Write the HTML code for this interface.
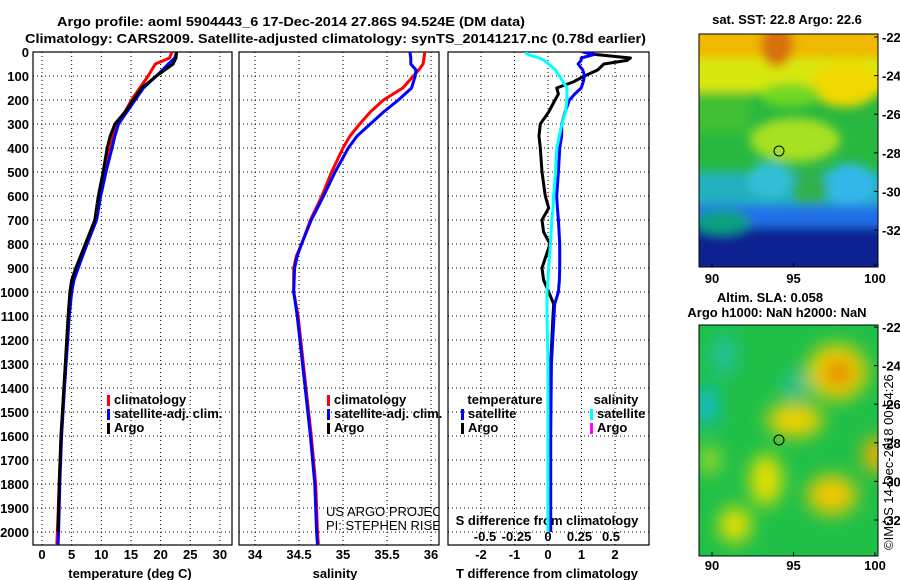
<!DOCTYPE html>
<html><head><meta charset="utf-8"><style>
body{margin:0;background:#fff;width:900px;height:580px;overflow:hidden}
svg{display:block;font-family:"Liberation Sans",sans-serif}
text{font-weight:bold;font-size:13px;fill:#000}
</style></head><body>
<svg id="s" width="900" height="580" viewBox="0 0 900 580">
<defs>
<clipPath id="c1"><rect x="33" y="52" width="199" height="493"/></clipPath>
<clipPath id="c2"><rect x="239" y="52" width="200" height="493"/></clipPath>
<clipPath id="c3"><rect x="448" y="52" width="201" height="493"/></clipPath>
<clipPath id="m1"><rect x="699" y="34" width="179" height="233"/></clipPath>
<clipPath id="m2"><rect x="699" y="325" width="179" height="231"/></clipPath>
<filter id="bl"><feGaussianBlur stdDeviation="9"/></filter>
<filter id="bl2"><feGaussianBlur stdDeviation="5"/></filter>
</defs>
<text x="57" y="26" textLength="468" lengthAdjust="spacingAndGlyphs" font-size="14">Argo profile: aoml 5904443_6 17-Dec-2014 27.86S 94.524E (DM data)</text>
<text x="25" y="43" textLength="621" lengthAdjust="spacingAndGlyphs" font-size="14">Climatology: CARS2009. Satellite-adjusted climatology: synTS_20141217.nc (0.78d earlier)</text>
<g id="maps">
<g clip-path="url(#m1)">
<rect x="699" y="34" width="179" height="233" fill="#28b840"/>
<g filter="url(#bl2)">
<rect x="690" y="20" width="200" height="45" fill="#f0b800"/>
<rect x="690" y="58" width="200" height="35" fill="#d8e810"/>
<ellipse cx="777" cy="45" rx="16" ry="22" fill="#d87010"/>
<ellipse cx="845" cy="85" rx="35" ry="22" fill="#f0d800"/>
<rect x="690" y="92" width="60" height="40" fill="#40c030"/>
<ellipse cx="790" cy="95" rx="30" ry="12" fill="#70d820"/>
<ellipse cx="795" cy="140" rx="45" ry="22" fill="#a8e020"/>
<rect x="690" y="172" width="200" height="45" fill="#20b0c0"/>
<ellipse cx="770" cy="180" rx="22" ry="18" fill="#30c0d8"/>
<ellipse cx="850" cy="185" rx="25" ry="22" fill="#30b8e8"/>
<ellipse cx="810" cy="190" rx="18" ry="20" fill="#30b050"/>
<rect x="690" y="205" width="200" height="22" fill="#2070e8"/>
<rect x="690" y="227" width="200" height="50" fill="#102090"/>
<ellipse cx="722" cy="222" rx="28" ry="12" fill="#10a080"/>
</g>
</g>
<rect x="699" y="34" width="179" height="233" fill="none" stroke="#000"/>
<circle cx="779" cy="151" r="5" fill="none" stroke="#000"/>
<g clip-path="url(#m2)">
<rect x="699" y="325" width="179" height="231" fill="#20c048"/>
<g filter="url(#bl)">
<ellipse cx="724" cy="355" rx="12" ry="22" fill="#20c0a0"/>
<ellipse cx="707" cy="406" rx="10" ry="20" fill="#10b8e0"/>
<ellipse cx="795" cy="385" rx="12" ry="12" fill="#20c0a0"/>
<ellipse cx="837" cy="372" rx="30" ry="28" fill="#f0d000"/>
<ellipse cx="839" cy="373" rx="14" ry="12" fill="#e07800"/>
<ellipse cx="795" cy="420" rx="28" ry="17" fill="#f0d000"/>
<ellipse cx="766" cy="480" rx="16" ry="26" fill="#e8e000"/>
<ellipse cx="832" cy="495" rx="25" ry="20" fill="#f0c800"/>
<ellipse cx="735" cy="525" rx="16" ry="18" fill="#e8e000"/>
<ellipse cx="877" cy="455" rx="14" ry="18" fill="#f0b000"/>
<ellipse cx="710" cy="460" rx="8" ry="15" fill="#c0e020"/>
</g>
</g>
<rect x="699" y="325" width="179" height="231" fill="none" stroke="#000"/>
<circle cx="779" cy="440" r="5" fill="none" stroke="#000"/>
<text x="787" y="24" text-anchor="middle" font-size="12">sat. SST: 22.8 Argo: 22.6</text>
<text x="770" y="302" text-anchor="middle" font-size="12">Altim. SLA: 0.058</text>
<text x="777" y="317" text-anchor="middle" font-size="12">Argo h1000: NaN h2000: NaN</text>
<text transform="translate(893,550) rotate(-90)" style="font-weight:normal" font-size="12">©IMOS 14-Dec-2018 00:54:26</text>
</g>
</svg>
<script>
// depth axis
const depthTicks=[0,100,200,300,400,500,600,700,800,900,1000,1100,1200,1300,1400,1500,1600,1700,1800,1900,2000];
// temperature profiles (depth, value)
const tDepth=[0,25,50,100,150,200,250,300,350,400,500,600,700,800,900,950,1000,1100,1400,1600,1800,2000,2055];
const tClim=[21.9,21.5,19.1,17.9,16.5,15.1,14.0,12.6,12.0,11.5,10.5,9.8,9.1,7.4,5.8,5.2,4.9,4.5,3.7,3.2,2.9,2.6,2.5];
const tSat=[22.7,22.4,21.3,19.3,17.1,15.7,14.3,12.9,12.3,11.8,10.8,9.9,9.2,7.6,6.1,5.4,5.0,4.6,3.8,3.3,3.0,2.8,2.7];
const tArgo=[22.7,22.6,22.1,19.3,16.8,15.4,14.0,12.3,11.5,11.0,10.3,9.5,8.9,7.3,5.7,5.0,4.7,4.4,3.7,3.2,2.9,2.7,null];
// salinity profiles
const sDepth=[0,25,50,75,100,150,200,250,300,350,400,500,600,700,800,850,900,1000,1100,1400,1600,1800,2000,2055];
const sClim=[35.93,35.92,35.91,35.86,35.80,35.68,35.46,35.31,35.19,35.08,35.00,34.87,34.76,34.63,34.53,34.47,34.44,34.44,34.49,34.58,34.64,34.69,34.71,34.72];
const sSat=[35.76,35.77,35.77,35.83,35.82,35.78,35.63,35.46,35.31,35.16,35.06,34.91,34.78,34.64,34.53,34.48,34.45,34.44,34.48,34.57,34.63,34.68,34.70,34.71];
// difference profiles
const dDepth=[0,10,25,35,50,75,100,125,150,175,200,250,300,350,400,500,600,650,700,750,800,900,950,1000,1050,1100,1300,1600,2000];
const dArgoT=[1.09,1.38,2.46,2.36,1.67,1.48,1.09,0.75,0.26,0.31,0.21,0.02,-0.23,-0.27,-0.23,-0.18,-0.08,0.02,-0.18,-0.13,0.06,-0.18,-0.13,0.02,0.17,0.15,0.08,0.05,null];
const dSatT=[1.04,1.38,0.99,0.99,0.9,1.04,1.09,1.05,0.99,0.8,0.64,0.51,0.41,0.41,0.35,0.31,0.26,0.28,0.31,0.33,0.35,0.35,0.34,0.31,0.2,0.18,0.1,0.08,0.08];
const dSatS=[-0.18,-0.16,-0.07,-0.03,0.005,0.06,0.09,0.12,0.15,0.15,0.15,0.14,0.11,0.09,0.07,0.06,0.045,0.04,0.03,0.025,0.02,0.005,0.0,-0.008,-0.008,-0.008,0.0,0.0,0.0];
const tTicks=[0,5,10,15,20,25,30];
const sTicks=[34,34.5,35,35.5,36];
const sTickLabels=["34","34.5","35","35.5","36"];
const dtTicks=[-2,-1,0,1,2];
const dsTicks=[-0.5,-0.25,0,0.25,0.5];
const dsTickLabels=["-0.5","-0.25","0","0.25","0.5"];
const latTicks=[-22,-24,-26,-28,-30,-32];
const lonTicks=[90,95,100];

const NS='http://www.w3.org/2000/svg';
const svg=document.getElementById('s');
function el(tag,attrs,parent){const e=document.createElementNS(NS,tag);for(const k in attrs)e.setAttribute(k,attrs[k]);(parent||svg).appendChild(e);return e;}
const yD=d=>52+d*0.24;
const xT=v=>42+v*5.93;
const xS=v=>255+(v-34)*88;
const xDT=v=>548+v*33.5;
const xDS=v=>548+v*126;
const yLat1=v=>37+(-22-v)*19.3;
const yLat2=v=>327+(-22-v)*19.3;
const xLon=v=>712+(v-90)*16.3;

const panels=[{x0:33,x1:232,ticks:tTicks,f:xT},{x0:239,x1:439,ticks:sTicks,f:xS},{x0:448,x1:649,ticks:dtTicks,f:xDT}];
panels.forEach((p,i)=>{
  const g=el('g',{});
  
  
  depthTicks.forEach(d=>{const l=el('line',{x1:p.x0,x2:p.x1,y1:yD(d),y2:yD(d),stroke:'#000','stroke-dasharray':'1,3','stroke-width':1},g);
    
    });
  p.ticks.forEach(t=>{const l=el('line',{x1:p.f(t),x2:p.f(t),y1:52,y2:545,stroke:'#000','stroke-dasharray':'1,3','stroke-width':1},g);
    
    });
  el('rect',{x:p.x0,y:52,width:p.x1-p.x0,height:493,fill:'none',stroke:'#000','stroke-width':1.2},g);
});
depthTicks.forEach(d=>{const t=el('text',{x:29,y:yD(d)+5,'text-anchor':'end','font-size':12});t.textContent=d;
  
  });
function xlabels(ticks,labels,f,y){ticks.forEach((v,i)=>{const t=el('text',{x:f(v),y:y,'text-anchor':'middle','font-size':12});t.textContent=labels?labels[i]:v;
  
  });}
xlabels(tTicks,null,xT,559);
xlabels(sTicks,sTickLabels,xS,559);
xlabels(dtTicks,null,xDT,559);
xlabels(dsTicks,dsTickLabels,xDS,541);
function title(txt,x,y,name){const t=el('text',{x:x,y:y,'text-anchor':'middle','font-size':13});t.textContent=txt;
  
  }
title('temperature (deg C)',130,578,'x-axis-title-temperature');
title('salinity',335,578,'x-axis-title-salinity');
title('T difference from climatology',547,578,'x-axis-title-t-difference');
title('S difference from climatology',547,525,'x-axis-title-s-difference');

function line(xs,ys,fx,color,clip,name){let pts=[];for(let i=0;i<xs.length;i++){if(xs[i]===null)continue;pts.push(fx(xs[i]).toFixed(1)+','+yD(ys[i]).toFixed(1));}
  const p=el('polyline',{points:pts.join(' '),fill:'none',stroke:color,'stroke-width':3,'clip-path':'url(#'+clip+')','stroke-linejoin':'round'});
  
  }
line(tClim,tDepth,xT,'#f00','c1','temperature-climatology-line');
line(tSat,tDepth,xT,'#00f','c1','temperature-satellite-line');
line(tArgo,tDepth,xT,'#000','c1','temperature-argo-line');
line(sClim,sDepth,xS,'#f00','c2','salinity-climatology-line');
line(sSat,sDepth,xS,'#00f','c2','salinity-satellite-line');
line(dArgoT,dDepth,xDT,'#000','c3','t-diff-argo-line');
line(dSatT,dDepth,xDT,'#00f','c3','t-diff-satellite-line');
line(dSatS,dDepth,xDS,'#0ff','c3','s-diff-satellite-line');

function legend(x,y,color,txt,name){const r=el('rect',{x:x,y:y-9,width:3,height:11,fill:color});
  
  
  const t=el('text',{x:x+7,y:y,'font-size':12});t.textContent=txt;
  
  }
legend(107,404,'#f00','climatology','legend-temp-climatology');
legend(107,418,'#00f','satellite-adj. clim.','legend-temp-satellite');
legend(107,432,'#000','Argo','legend-temp-argo');
legend(327,404,'#f00','climatology','legend-sal-climatology');
legend(327,418,'#00f','satellite-adj. clim.','legend-sal-satellite');
legend(327,432,'#000','Argo','legend-sal-argo');
legend(461,418,'#00f','satellite','legend-tdiff-satellite');
legend(461,432,'#000','Argo','legend-tdiff-argo');
legend(590,418,'#0ff','satellite','legend-sdiff-satellite');
legend(590,432,'#f0f','Argo','legend-sdiff-argo');
title('temperature',505,404,'legend-heading-temperature');
title('salinity',616,404,'legend-heading-salinity');
const cg=el('g',{'clip-path':'url(#c2)'});
[['US ARGO PROJECT',516],['PI: STEPHEN RISER',530]].forEach(a=>{const t=el('text',{x:326,y:a[1],'font-size':12,style:'font-weight:normal'},cg);t.textContent=a[0];
  
  });

[yLat1,yLat2].forEach((fy,k)=>{latTicks.forEach(v=>{const y=fy(v);
  el('line',{x1:874,x2:878,y1:y,y2:y,stroke:'#000'});
  const t=el('text',{x:882,y:y+5,'font-size':12});t.textContent=v;
  
  });
  const yb=k?556:267;
  lonTicks.forEach(v=>{el('line',{x1:xLon(v),x2:xLon(v),y1:yb-4,y2:yb,stroke:'#000'});
    const t=el('text',{x:xLon(v),y:yb+(k?14:16),'text-anchor':'middle','font-size':12});t.textContent=v;
    
    });});
</script>
</body></html>
